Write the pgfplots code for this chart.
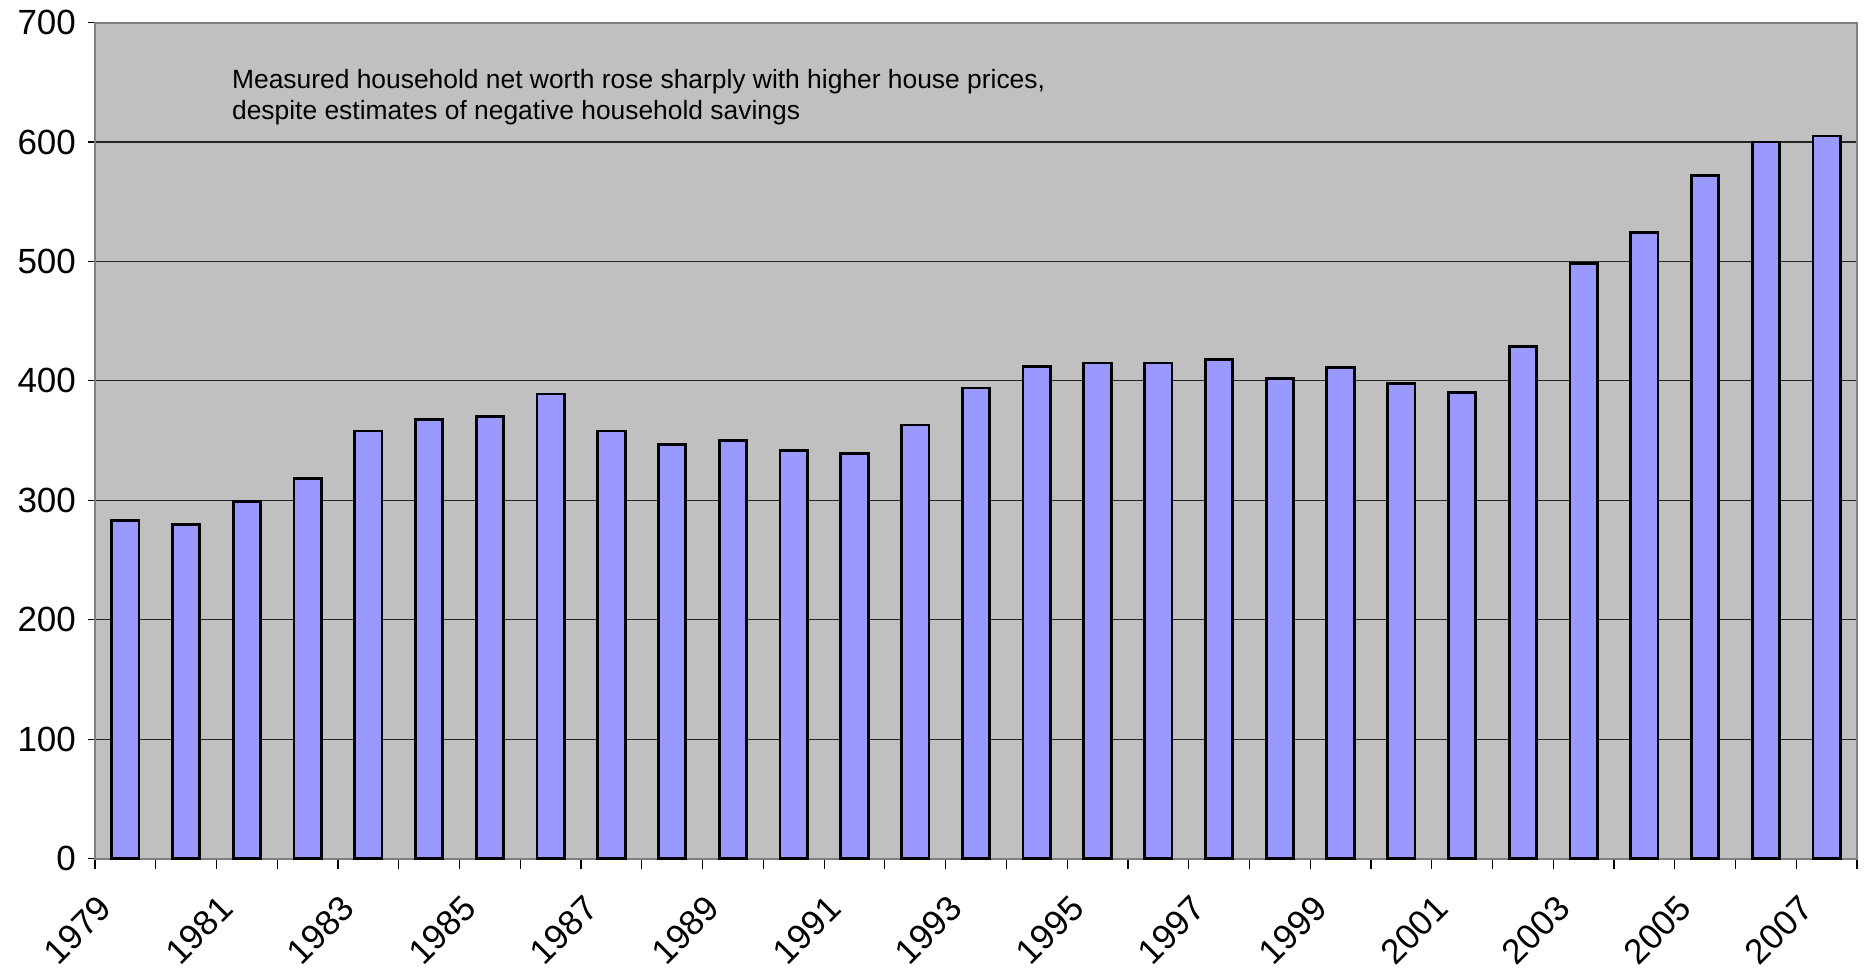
\documentclass[border=0pt]{standalone}
\usepackage{fontspec}
\setmainfont{Liberation Sans}
\usepackage{pgfplots}
\pgfplotsset{compat=1.18}
\definecolor{bg}{HTML}{C0C0C0}
\definecolor{barc}{HTML}{9999FF}
\definecolor{axgray}{HTML}{808080}
\begin{document}
\begin{tikzpicture}
\begin{axis}[
  at={(0,0)}, anchor=south west,
  scale only axis,
  width=881pt, height=418pt,
  xmin=-0.5, xmax=28.5,
  ymin=0, ymax=700,
  axis background/.style={fill=bg},
  axis line style={draw=axgray, line width=1pt},
  ytick={0,100,...,700},
  ymajorgrids,
  major grid style={draw=black!85, line width=0.6pt},
  y tick style={draw=black, line width=0.6pt},
  tick align=outside,
  major tick length=3.5pt,
  xtick={-0.25,1.75,...,27.75},
  xticklabels={1979,1981,1983,1985,1987,1989,1991,1993,1995,1997,1999,2001,2003,2005,2007},
  x tick style={draw=none},
  minor xtick={-0.5,0.5,...,28.5},
  minor x tick style={draw=black, line width=0.6pt},
  minor tick length=5pt,
  xticklabel style={rotate=45, anchor=east, font=\fontsize{17.5}{19}\selectfont},
  xticklabel shift=16pt,
  yticklabel style={font=\fontsize{17.5}{19}\selectfont},
  yticklabel shift=2.5pt,
  /pgf/number format/assume math mode=true,
  ytick pos=left, xtick pos=bottom,
  clip=false,
]
\addplot[ybar, bar width=0.45, fill=barc, draw=black, line width=1.4pt]
  coordinates {
  (0,283) (1,280) (2,299) (3,318) (4,358) (5,368) (6,370) (7,389)
  (8,358) (9,347) (10,350) (11,342) (12,339) (13,363) (14,394) (15,412)
  (16,415) (17,415) (18,418) (19,402) (20,411) (21,398) (22,390) (23,429)
  (24,498) (25,524) (26,572) (27,600) (28,605)
  };
\node[anchor=north west, inner sep=0pt, align=left, font=\fontsize{13.2}{15.5}\selectfont]
  at (axis cs:1.75,661) {Measured household net worth rose sharply with higher house prices,\\despite estimates of negative household savings};
\end{axis}
\pgfresetboundingbox
\path[use as bounding box] (-47.5pt,-57.5pt) rectangle (884.5pt,429.3pt);
\end{tikzpicture}
\end{document}
